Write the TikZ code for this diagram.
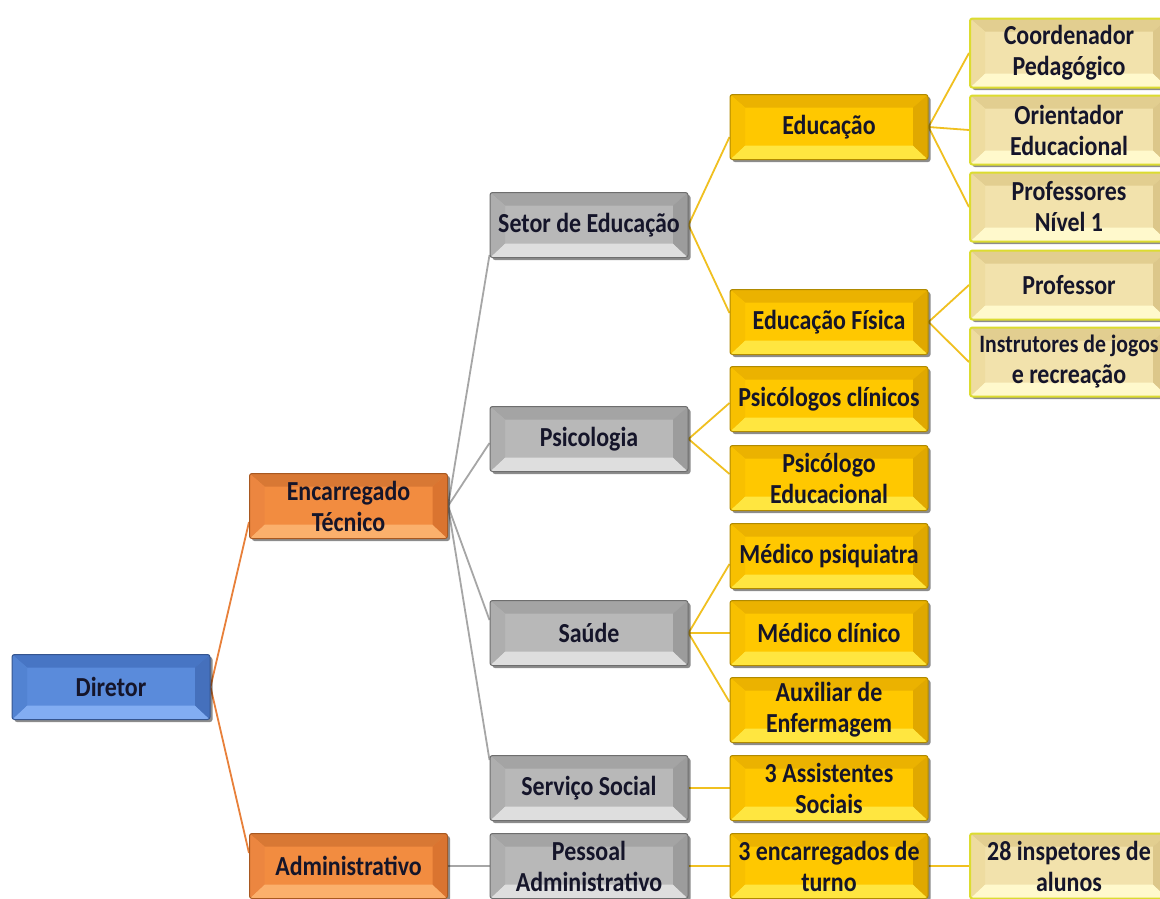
\documentclass[tikz,border=0pt]{standalone}
\usepackage{fontspec}
\newfontfamily\boxfont[FakeStretch=0.87]{Carlito}
\usetikzlibrary{shadows,backgrounds}
% palettes: fc face, tp top, bt bottom, lf left, rt right, bd border
\definecolor{blfc}{HTML}{5A8BDB}\definecolor{bltp}{HTML}{4775C4}\definecolor{blbt}{HTML}{82ADF2}\definecolor{bllf}{HTML}{5283D2}\definecolor{blrt}{HTML}{4570BC}\definecolor{blbd}{HTML}{35558F}
\definecolor{orfc}{HTML}{F28C40}\definecolor{ortp}{HTML}{D87834}\definecolor{orbt}{HTML}{FBB06C}\definecolor{orlf}{HTML}{EC8640}\definecolor{orrt}{HTML}{DA7430}\definecolor{orbd}{HTML}{A85820}
\definecolor{grfc}{HTML}{B8B8B8}\definecolor{grtp}{HTML}{A4A4A4}\definecolor{grbt}{HTML}{DEDEDE}\definecolor{grlf}{HTML}{AEAEAE}\definecolor{grrt}{HTML}{9C9C9C}\definecolor{grbd}{HTML}{6E6E6E}
\definecolor{yefc}{HTML}{FFC800}\definecolor{yetp}{HTML}{EBB200}\definecolor{yebt}{HTML}{FFE640}\definecolor{yelf}{HTML}{F8C000}\definecolor{yert}{HTML}{E0A800}\definecolor{yebd}{HTML}{B08A00}
\definecolor{lyfc}{HTML}{F2E2AC}\definecolor{lytp}{HTML}{E2CE90}\definecolor{lybt}{HTML}{FFF9CC}\definecolor{lylf}{HTML}{EEDCA0}\definecolor{lyrt}{HTML}{DCC78A}\definecolor{lybd}{HTML}{DCDC30}
\definecolor{txt}{HTML}{15152A}
\definecolor{lnor}{HTML}{E8803A}\definecolor{lngr}{HTML}{A6A6A6}\definecolor{lnye}{HTML}{F0C020}
\tikzset{
  bx/.style={minimum width=198pt, minimum height=65pt, inner sep=0pt, align=center,
    font=\boxfont\bfseries\fontsize{27.5}{31}\selectfont, text=txt,
    rounded corners=2.5pt, draw=#1bd, line width=1pt, fill=#1fc,
    drop shadow={shadow xshift=2.5pt, shadow yshift=-2.5pt, fill=black, opacity=0.45},
    path picture={
      \fill[#1tp, sharp corners] (path picture bounding box.north west) -- (path picture bounding box.north east)
        -- ([shift={(-15pt,-13pt)}]path picture bounding box.north east) -- ([shift={(15pt,-13pt)}]path picture bounding box.north west) -- cycle;
      \fill[#1bt, sharp corners] (path picture bounding box.south west) -- (path picture bounding box.south east)
        -- ([shift={(-15pt,14pt)}]path picture bounding box.south east) -- ([shift={(15pt,14pt)}]path picture bounding box.south west) -- cycle;
      \fill[#1lf, sharp corners] (path picture bounding box.north west) -- ([shift={(15pt,-13pt)}]path picture bounding box.north west)
        -- ([shift={(15pt,14pt)}]path picture bounding box.south west) -- (path picture bounding box.south west) -- cycle;
      \fill[#1rt, sharp corners] (path picture bounding box.north east) -- ([shift={(-15pt,-13pt)}]path picture bounding box.north east)
        -- ([shift={(-15pt,14pt)}]path picture bounding box.south east) -- (path picture bounding box.south east) -- cycle;
    }},
  tall/.style={minimum height=69pt},
  lyb/.style={bx=ly, line width=2pt},
  cn/.style={line width=1.8pt, draw=#1},
}
\begin{document}
\begin{tikzpicture}[x=1pt,y=-1pt]
\clip (0,0) rectangle (1160,898);
% column 0/1
\node[bx=bl] (dir) at (111,687) {Diretor};
\node[bx=or] (enc) at (348.5,506) {Encarregado\\Técnico};
\node[bx=or] (adm) at (348.5,866) {Administrativo};
% column 2
\node[bx=gr] (set) at (589,225) {Setor de Educação};
\node[bx=gr] (psi) at (589,439) {Psicologia};
\node[bx=gr] (sau) at (589,633) {Saúde};
\node[bx=gr] (ser) at (589,788) {Serviço Social};
\node[bx=gr] (pes) at (589,866) {Pessoal\\Administrativo};
% column 3
\node[bx=ye] (edu) at (829,127) {Educação};
\node[bx=ye] (efi) at (829,322) {Educação Física};
\node[bx=ye] (pcl) at (829,399) {Psicólogos clínicos};
\node[bx=ye] (ped) at (829,478) {Psicólogo\\Educacional};
\node[bx=ye] (mps) at (829,556) {Médico psiquiatra};
\node[bx=ye] (mcl) at (829,633) {Médico clínico};
\node[bx=ye] (aux) at (829,710) {Auxiliar de\\Enfermagem};
\node[bx=ye] (ass) at (829,788) {3 Assistentes\\Sociais};
\node[bx=ye] (enct) at (829,866) {3 encarregados de\\turno};
% column 4
\node[lyb, tall] (coo) at (1069,53) {Coordenador\\Pedagógico};
\node[lyb, tall] (ori) at (1069,130) {Orientador\\Educacional};
\node[lyb, tall] (pro) at (1069,207) {Professores\\Nível 1};
\node[lyb, tall] (prf) at (1069,285) {Professor};
\node[lyb, tall] (ins) at (1069,362) {{\fontsize{25}{31}\selectfont Instrutores de jogos}\\e recreação};
\node[lyb] (ins28) at (1069,866) {28 inspetores de\\alunos};
% connectors
\begin{scope}[on background layer]
\fill[white] (0,0) rectangle (1160,898);
\draw[cn=lnor] (dir.east) -- ([yshift=-16pt]enc.west);
\draw[cn=lnor] (dir.east) -- ([yshift=13pt]adm.west);
\draw[cn=lngr] (enc.east) -- ([yshift=-30pt]set.west);
\draw[cn=lngr] (enc.east) -- ([yshift=-4pt]psi.west);
\draw[cn=lngr] (enc.east) -- ([yshift=13pt]sau.west);
\draw[cn=lngr] (enc.east) -- ([yshift=28pt]ser.west);
\draw[cn=lngr] (adm.east) -- (pes.west);
\draw[cn=lnye] (set.east) -- ([yshift=-10pt]edu.west);
\draw[cn=lnye] (set.east) -- ([yshift=9pt]efi.west);
\draw[cn=lnye] (psi.east) -- ([yshift=-4pt]pcl.west);
\draw[cn=lnye] (psi.east) -- ([yshift=4pt]ped.west);
\draw[cn=lnye] (sau.east) -- ([yshift=-8pt]mps.west);
\draw[cn=lnye] (sau.east) -- (mcl.west);
\draw[cn=lnye] (sau.east) -- ([yshift=8pt]aux.west);
\draw[cn=lnye] (ser.east) -- (ass.west);
\draw[cn=lnye] (pes.east) -- (enct.west);
\draw[cn=lnye] (enct.east) -- (ins28.west);
\draw[cn=lnye] (edu.east) -- (coo.west);
\draw[cn=lnye] (edu.east) -- (ori.west);
\draw[cn=lnye] (edu.east) -- (pro.west);
\draw[cn=lnye] (efi.east) -- (prf.west);
\draw[cn=lnye] (efi.east) -- (ins.west);
\end{scope}
\end{tikzpicture}
\end{document}
